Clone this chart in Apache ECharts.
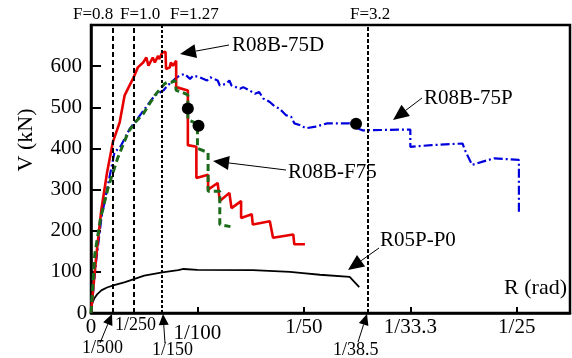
<!DOCTYPE html>
<html>
<head>
<meta charset="utf-8">
<script src="https://cdn.jsdelivr.net/npm/echarts@6/dist/echarts.min.js"></script>
<style>
  html, body { margin: 0; padding: 0; background: #fff; }
  #chart { width: 572px; height: 358px; }
</style>
</head>
<body>
<div id="chart"></div>
<script>
// drift R (rad), shear V (kN)
const r08b75D = [[0,0],[0.0005,140],[0.00097,251],[0.0015,340],[0.00206,416],[0.0027,464],[0.00316,529],[0.0036,552],[0.00394,569],[0.0044,597],[0.0049,609],[0.0052,621],[0.0054,601],[0.0058,621],[0.0060,609],[0.0063,625],[0.0064,617],[0.0067,633],[0.0070,635],[0.00705,593],[0.0074,597],[0.0075,609],[0.0077,601],[0.0080,613],[0.0080,549],[0.0091,541],[0.0091,408],[0.0099,404],[0.0099,328],[0.0110,336],[0.0110,300],[0.0119,316],[0.0121,272],[0.0130,292],[0.0132,255],[0.0141,272],[0.0141,231],[0.0151,240],[0.0152,215],[0.0168,223],[0.0171,183],[0.0190,191],[0.0191,167],[0.0201,167]]
const r08bF75 = [[0,0],[0.00036,143],[0.0009,230],[0.0016,304],[0.0025,376],[0.0035,440],[0.0042,465],[0.0049,484],[0.0060,529],[0.0069,557],[0.0072,561],[0.0076,561],[0.0079,565],[0.0080,541],[0.0085,537],[0.0091,530],[0.0091,470],[0.0100,460],[0.0100,400],[0.0110,390],[0.0110,296],[0.0121,296],[0.0121,215],[0.0131,210]]
const r08b75P = [[0,0],[0.0005,130],[0.0010,235],[0.0016,312],[0.0022,390],[0.0028,406],[0.0036,446],[0.0047,484],[0.0060,529],[0.0068,541],[0.0072,553],[0.0079,569],[0.0083,577],[0.0088,581],[0.0093,569],[0.0096,577],[0.0102,573],[0.0109,565],[0.0112,573],[0.0119,565],[0.0121,553],[0.0127,557],[0.0130,565],[0.0132,553],[0.0140,545],[0.0143,549],[0.0149,541],[0.0154,533],[0.0158,537],[0.0162,521],[0.0168,513],[0.0173,501],[0.0177,497],[0.0180,489],[0.0183,481],[0.0188,477],[0.0191,461],[0.0196,457],[0.0202,449],[0.0211,453],[0.0222,461],[0.0243,461],[0.0249,450],[0.0255,444],[0.0300,446],[0.0300,404],[0.0320,408],[0.0349,412],[0.0352,392],[0.0358,360],[0.0368,368],[0.0379,376],[0.0402,372],[0.0402,240]]
const r05pP0 = [[0,8],[0.0001,22],[0.0003,35],[0.0006,46],[0.00097,55],[0.0015,62],[0.0021,67],[0.0032,75],[0.0041,83],[0.0050,91],[0.0067,99],[0.0082,104],[0.0087,107],[0.0100,105],[0.0152,104],[0.0187,100],[0.0199,97],[0.0215,93],[0.0243,88],[0.0252,63]]
const failPoints = [[0.0091,497],[0.0101,455],[0.0249,460]]

// axis ticks
const xTicks = [0, 0.01, 0.02, 0.03, 0.04]
const xTickText = ['0', '1/100', '1/50', '1/33.3', '1/25']
const yTicks = [100, 200, 300, 400, 500, 600]

// reference drifts (dashed verticals)
const refDrift = [1 / 500, 1 / 250, 1 / 150, 1 / 38.5]
const refDash = [[5, 3], [5, 3], [3, 2], [4, 2]]

const FONT = 'Liberation Serif'

// arrow helper: line from (x1,y1) ending in a filled head at (x2,y2)
const arrow = (x1, y1, x2, y2, len, half) => {
  const a = Math.atan2(y2 - y1, x2 - x1)
  const bx = x2 - len * Math.cos(a), by = y2 - len * Math.sin(a)
  const px = -Math.sin(a) * half, py = Math.cos(a) * half
  return [
    { type: 'line', shape: { x1, y1, x2: bx, y2: by }, style: { stroke: '#000', lineWidth: 1 } },
    { type: 'polygon', shape: { points: [[x2, y2], [bx + px, by + py], [bx - px, by - py]] }, style: { fill: '#000' } }
  ]
}

const txt = (x, y, text, size, align) => ({
  type: 'text', x, y,
  style: { text, fill: '#000', fontFamily: FONT, fontSize: size, align: align || 'left', verticalAlign: 'middle' }
})

const myChart = echarts.init(document.getElementById('chart'))
myChart.setOption({
  animation: false,
  grid: { left: 91, right: 2, top: 25, bottom: 45, show: true, borderColor: '#000', borderWidth: 2.5 },
  xAxis: {
    type: 'value', min: 0, max: 0.045, interval: 0.01,
    splitLine: { show: false },
    axisLine: { lineStyle: { color: '#000', width: 2.5 } },
    axisTick: { inside: true, length: 6, lineStyle: { color: '#000', width: 2 } },
    axisLabel: {
      color: '#000', fontFamily: FONT, fontSize: 21, margin: 4, showMaxLabel: false,
      formatter: v => {
        const i = xTicks.findIndex(t => Math.abs(t - v) < 1e-9)
        if (i === 1) return '{low|' + xTickText[i] + '}'
        return i >= 0 ? xTickText[i] : ''
      },
      rich: { low: { fontFamily: FONT, fontSize: 21, color: '#000', padding: [6, 0, 0, 0] } }
    }
  },
  yAxis: {
    type: 'value', min: 0, max: 700, interval: 100,
    splitLine: { show: false },
    axisLine: { show: true, lineStyle: { color: '#000', width: 2.5 } },
    axisTick: { inside: true, length: 10, lineStyle: { color: '#000', width: 2 } },
    axisLabel: {
      color: '#000', fontFamily: FONT, fontSize: 21, margin: 9, showMaxLabel: false,
      formatter: v => (yTicks.includes(v) ? String(v) : '')
    }
  },
  series: [
    {
      type: 'line', data: r05pP0, symbol: 'none',
      lineStyle: { color: '#000', width: 1.8 },
      markLine: {
        silent: true, symbol: 'none', precision: 8, label: { show: false },
        data: refDrift.map((d, i) => ({ xAxis: d, lineStyle: { color: '#000', width: 2, type: refDash[i] } }))
      }
    },
    { type: 'line', data: r08b75P, symbol: 'none', lineStyle: { color: '#0000dd', width: 2.2, type: [9, 3, 2, 3] } },
    { type: 'line', data: r08b75D, symbol: 'none', lineStyle: { color: '#e60000', width: 2.6 } },
    { type: 'line', data: r08bF75, symbol: 'none', lineStyle: { color: '#1b6b1b', width: 3, type: [7, 4] } },
    { type: 'scatter', data: failPoints, symbol: 'circle', symbolSize: 12, itemStyle: { color: '#000', opacity: 1 }, z: 5 }
  ],
  graphic: [
    txt(73, 15, 'F=0.8', 17),
    txt(120, 15, 'F=1.0', 17),
    txt(170, 15, 'F=1.27', 17),
    txt(350, 15, 'F=3.2', 17),
    txt(232, 45, 'R08B-75D', 21),
    txt(424, 98, 'R08B-75P', 21),
    txt(288, 172, 'R08B-F75', 21),
    txt(380, 240, 'R05P-P0', 21),
    txt(567, 288, 'R (rad)', 22, 'right'),
    txt(82, 313, '0', 21, 'center'),
    txt(82, 348, '1/500', 18),
    txt(115, 325, '1/250', 18),
    txt(152, 350, '1/150', 18),
    txt(333, 350, '1/38.5', 18),
    {
      type: 'text', x: 26, y: 140, rotation: Math.PI / 2,
      style: { text: 'V (kN)', fill: '#000', fontFamily: FONT, fontSize: 22, align: 'center', verticalAlign: 'middle' }
    },
    ...arrow(229, 45, 180, 54, 16, 7),
    ...arrow(422, 98, 393, 120, 16, 7),
    ...arrow(286, 170, 213, 161, 16, 7),
    ...arrow(379, 248, 348, 270, 16, 7),
    ...arrow(100, 343, 112, 314, 11, 5),
    ...arrow(165, 343, 163, 314, 11, 5),
    ...arrow(358, 342, 367, 314, 11, 5)
  ]
})
</script>
</body>
</html>
